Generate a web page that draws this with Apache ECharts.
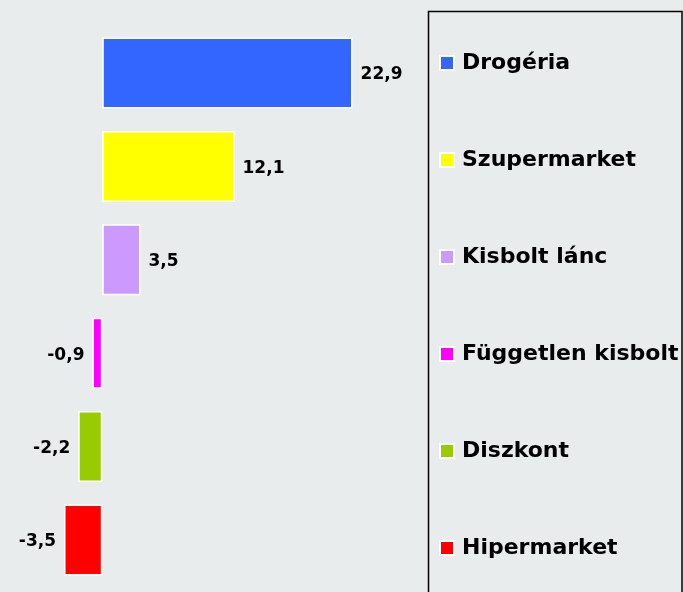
<!DOCTYPE html>
<html>
<head>
<meta charset="utf-8">
<script src="https://cdn.jsdelivr.net/npm/echarts@6/dist/echarts.min.js"></script>
<style>
  html, body { margin: 0; padding: 0; background: #e9eced; }
  #chart { width: 683px; height: 592px; }
</style>
</head>
<body>
<div id="chart"></div>
<script>
// adatok
var categories = ['Drogéria', 'Szupermarket', 'Kisbolt lánc', 'Független kisbolt', 'Diszkont', 'Hipermarket'];
var values = [22.9, 12.1, 3.5, -0.9, -2.2, -3.5];
var colors = ['#3366ff', '#ffff00', '#cc99ff', '#ff00ff', '#99cc00', '#ff0000'];

var myChart = echarts.init(document.getElementById('chart'));

var series = categories.map(function (name, i) {
  var data = categories.map(function (c, j) {
    if (j !== i) return '-';
    return {
      value: values[i],
      label: { position: values[i] < 0 ? 'left' : 'right' }
    };
  });
  return {
    name: name,
    type: 'bar',
    stack: 'osszes',
    barWidth: 71,
    itemStyle: { color: colors[i], borderColor: '#ffffff', borderWidth: 1.5 },
    label: {
      show: true,
      distance: 8,
      offset: [0, 2],
      fontFamily: 'DejaVu Sans',
      fontWeight: 'bold',
      fontSize: 17,
      color: '#000',
      formatter: function (p) {
        return String(p.value).replace('.', ',');
      }
    },
    data: data
  };
});

var option = {
  backgroundColor: '#e9eced',
  animation: false,
  grid: { left: 47.65, right: 307.5, top: 26.3, bottom: 5.3 },
  xAxis: {
    type: 'value',
    min: -5,
    max: 25,
    show: false
  },
  yAxis: {
    type: 'category',
    data: categories,
    inverse: true,
    show: false
  },
  legend: {
    orient: 'vertical',
    left: 434,
    top: 46,
    icon: 'rect',
    itemWidth: 14,
    itemHeight: 14,
    itemGap: 73,
    itemStyle: { borderColor: '#ffffff', borderWidth: 2 },
    textStyle: {
      fontFamily: 'DejaVu Sans',
      fontWeight: 'bold',
      fontSize: 22,
      color: '#000',
      lineHeight: 24,
      padding: [0, 0, 0, 3]
    },
    data: categories
  },
  graphic: [
    {
      type: 'rect',
      shape: { x: 428.5, y: 11.5, width: 253.5, height: 620 },
      style: { fill: 'none', stroke: '#000', lineWidth: 1.5 }
    }
  ],
  series: series
};

myChart.setOption(option);
</script>
</body>
</html>
